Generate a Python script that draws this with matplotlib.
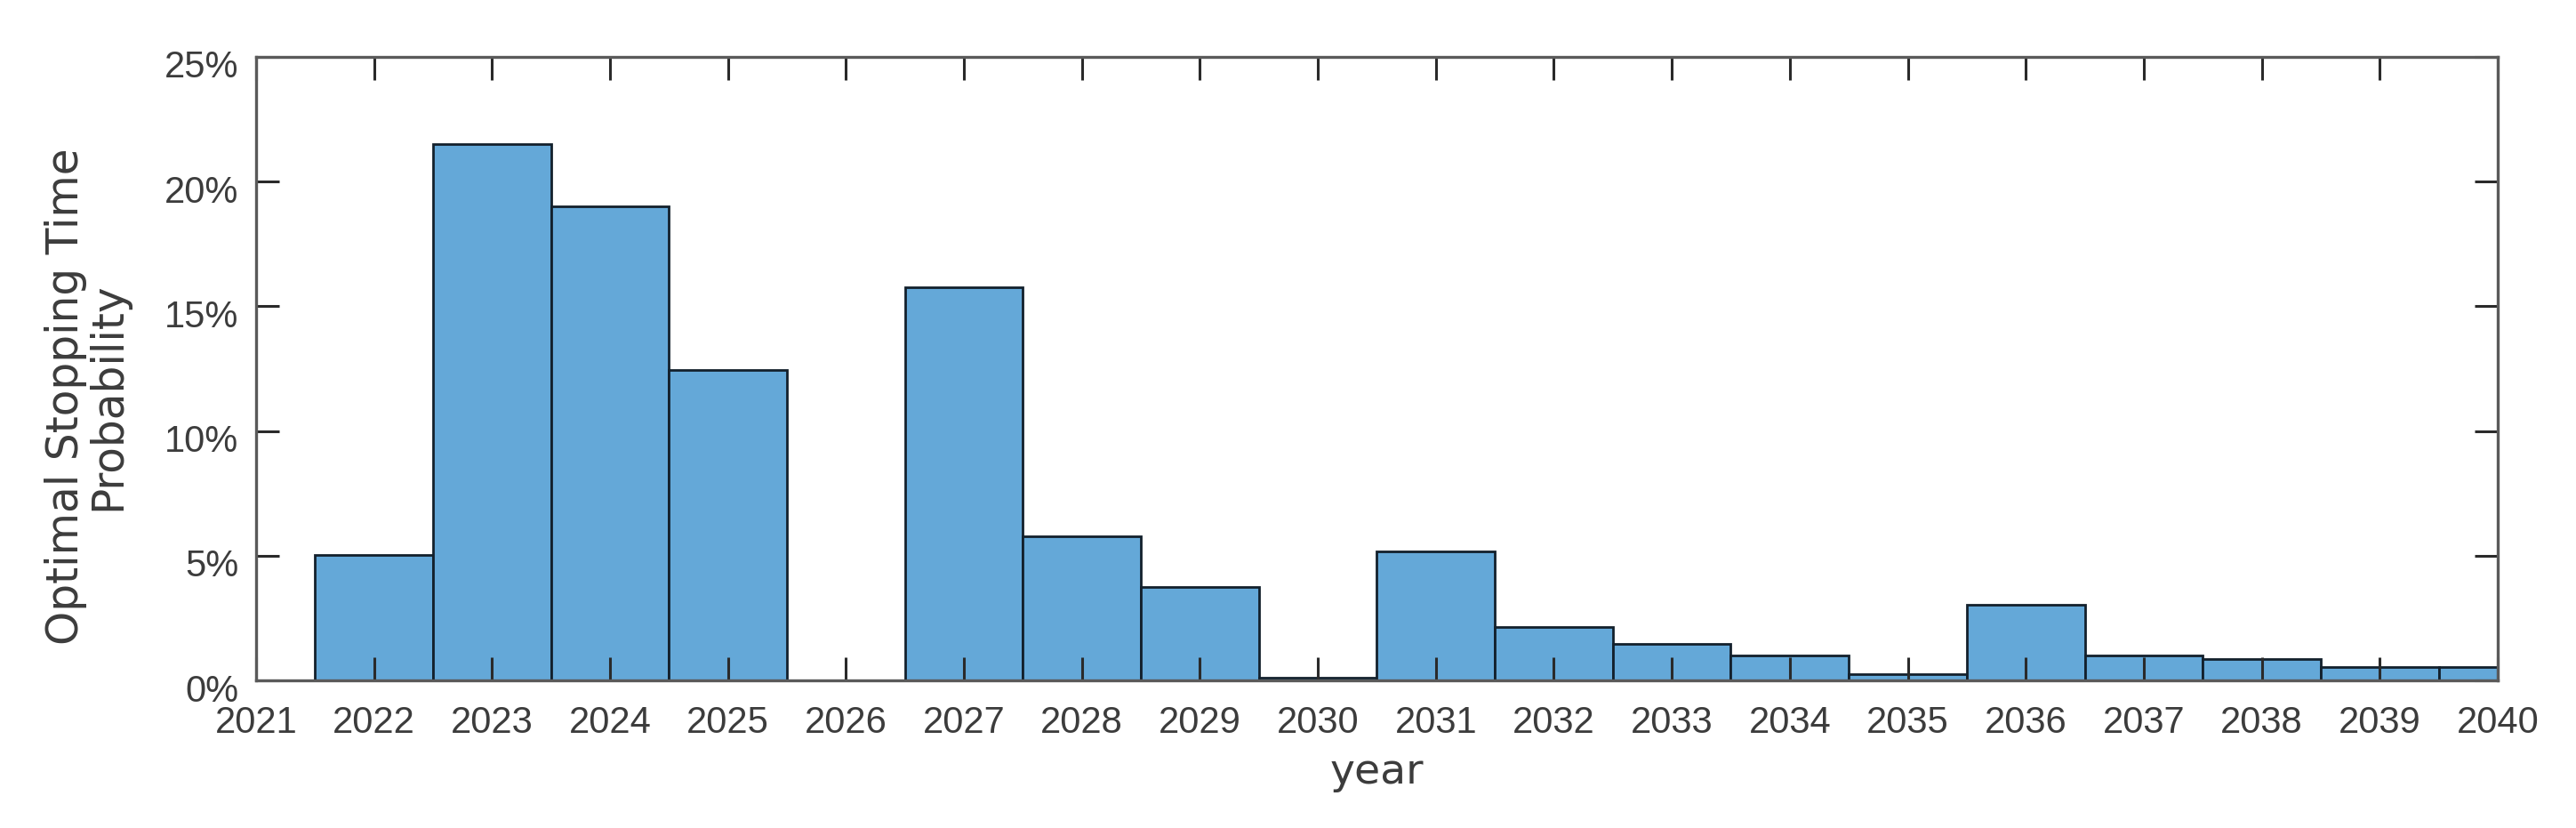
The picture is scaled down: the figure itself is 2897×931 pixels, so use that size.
import matplotlib
matplotlib.use("Agg")
import matplotlib.pyplot as plt
import matplotlib.transforms as mtrans
from matplotlib.ticker import FuncFormatter

years = list(range(2022, 2041))
probability = [5.02, 21.5, 19.0, 12.45, 0.0, 15.76, 5.76, 3.73, 0.1, 5.17,
               2.15, 1.48, 1.01, 0.25, 3.02, 1.0, 0.84, 0.53, 0.53]
xtick_years = list(range(2021, 2041))
ytick_vals = [0, 5, 10, 15, 20, 25]

plt.rcParams['font.family'] = ['Liberation Sans', 'DejaVu Sans']
text_color = '#3c3c3c'

fig = plt.figure(figsize=(28.97, 9.31), dpi=100)
ax = fig.add_axes([0.0994, 0.1783, 0.8702, 0.7530])

ax.bar(years, probability, width=1.0, align='center', color='#64A8D8',
       edgecolor='#13202c', linewidth=2.0, zorder=2)

ax.set_xlim(2021, 2040)
ax.set_ylim(0, 25)
ax.set_xticks(xtick_years)
ax.set_xticklabels([str(y) for y in xtick_years])
ax.set_yticks(ytick_vals)
ax.yaxis.set_major_formatter(FuncFormatter(lambda v, p: f"{int(v)}%"))

ax.tick_params(axis='both', direction='in', length=19, width=2.2,
               color='#2a2a2a', labelsize=30, labelcolor=text_color,
               top=True, right=True)
ax.tick_params(axis='x', pad=20)
ax.tick_params(axis='y', pad=14)
for s in ax.spines.values():
    s.set_linewidth(2.4)
    s.set_color('#5a5a5a')
    s.set_zorder(3)
ax.set_axisbelow(False)

# y tick labels sit slightly below their ticks in the reference
shift = mtrans.ScaledTranslation(0, -8 / 100, fig.dpi_scale_trans)
for lab in ax.get_yticklabels():
    lab.set_transform(lab.get_transform() + shift)

ax.set_xlabel('year', fontsize=34, color=text_color, family='DejaVu Sans')
ax.xaxis.set_label_coords(0.5, -0.115)
ax.set_ylabel('Optimal Stopping Time\nProbability', fontsize=35,
              color=text_color, family='DejaVu Sans', linespacing=1.0)
ax.yaxis.set_label_coords(-0.0565, 0.455)

fig.savefig('out.png', dpi=100)
